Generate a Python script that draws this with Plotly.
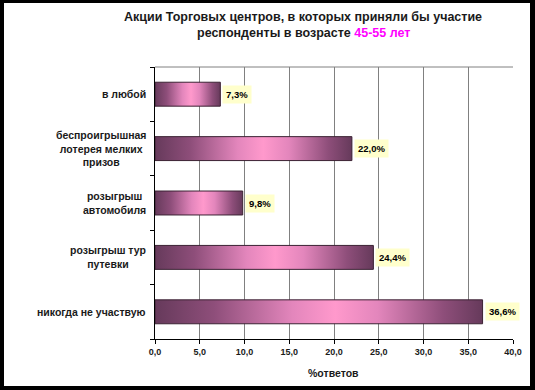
import plotly.graph_objects as go

categories = ["в любой", "беспроигрышная<br>лотерея мелких<br>призов", "розыгрыш<br>автомобиля",
              "розыгрыш тур<br>путевки", "никогда не участвую"]
values = [7.3, 22.0, 9.8, 24.4, 36.6]
x_ticks = [0, 5, 10, 15, 20, 25, 30, 35, 40]
x_ticklabels = [f"{v:.1f}".replace(".", ",") for v in x_ticks]

W, H = 535, 390
ML, MR, MT, MB = 155, 22, 67, 51
PW, PH = W - ML - MR, H - MT - MB

def px(xpix):
    return (xpix - ML) / PW

def py(ypix):
    return (H - MB - ypix) / PH

FONT = "Liberation Sans, Arial, sans-serif"
bar_half = 0.22
grad = [[0.0, "#663a5b"], [0.18, "#8e4e7a"], [0.42, "#e386bc"], [0.55, "#ff99cc"],
        [0.68, "#e386bc"], [0.88, "#8e4e7a"], [1.0, "#663a5b"]]

fig = go.Figure()
for i, v in enumerate(values):
    fig.add_trace(go.Scatter(
        x=[0, v, v, 0, 0],
        y=[i - bar_half, i - bar_half, i + bar_half, i + bar_half, i - bar_half],
        mode="lines", fill="toself",
        fillgradient=dict(type="horizontal", colorscale=grad),
        line=dict(color="#3b2233", width=1),
        hoverinfo="skip", showlegend=False,
    ))

annotations = []
for i, v in enumerate(values):
    annotations.append(dict(
        x=v, y=i, xref="x", yref="y", xanchor="left", yanchor="middle", xshift=2,
        text=f"{v:.1f}".replace(".", ",") + "%", showarrow=False,
        font=dict(family=FONT, size=9.5, color="#000000", weight="bold"),
        bgcolor="#FFFFCC", borderpad=3,
    ))
for i, c in enumerate(categories):
    annotations.append(dict(
        x=0, y=i, xref="paper", yref="y", xanchor="right", yanchor="middle", xshift=-7,
        text=c, showarrow=False, align="center",
        font=dict(family=FONT, size=10.5, color="#1a1a1a", weight="bold"),
    ))
annotations.append(dict(
    x=px(303), y=py(17), xref="paper", yref="paper", xanchor="center", yanchor="middle",
    text="Акции Торговых центров, в которых приняли бы участие", showarrow=False,
    font=dict(family=FONT, size=12.5, color="#1a1a1a", weight="bold"),
))
annotations.append(dict(
    x=px(303), y=py(33), xref="paper", yref="paper", xanchor="center", yanchor="middle",
    text="респонденты в возрасте <span style='color:#FF00FF'>45-55 лет</span>", showarrow=False,
    font=dict(family=FONT, size=12.5, color="#1a1a1a", weight="bold"),
))
annotations.append(dict(
    x=px(333), y=py(373), xref="paper", yref="paper", xanchor="center", yanchor="middle",
    text="%ответов", showarrow=False,
    font=dict(family=FONT, size=10.5, color="#1a1a1a", weight="bold"),
))

shapes = [
    dict(type="rect", xref="paper", yref="paper", x0=px(4), x1=px(530), y0=py(386), y1=py(3),
         fillcolor="white", line=dict(width=0), layer="below"),
    dict(type="line", xref="paper", yref="paper", x0=0, x1=1, y0=1, y1=1,
         line=dict(color="#808080", width=1)),
]

fig.update_layout(
    width=W, height=H,
    margin=dict(l=ML, r=MR, t=MT, b=MB),
    paper_bgcolor="black", plot_bgcolor="white",
    annotations=annotations, shapes=shapes,
    xaxis=dict(range=[0, 40], tickvals=x_ticks, ticktext=x_ticklabels,
               showgrid=True, gridcolor="#808080", gridwidth=1,
               showline=True, linecolor="#000000", linewidth=1,
               ticks="outside", ticklen=4, tickcolor="#000000",
               tickfont=dict(family=FONT, size=9, color="#1a1a1a", weight="bold"),
               zeroline=False, fixedrange=True),
    yaxis=dict(range=[4.5, -0.5], tickvals=[-0.5, 0.5, 1.5, 2.5, 3.5, 4.5],
               showticklabels=False, showgrid=False,
               showline=True, linecolor="#000000", linewidth=1,
               ticks="outside", ticklen=4, tickcolor="#000000",
               zeroline=False, fixedrange=True),
)

fig.write_html("out.html", config={"displayModeBar": False},
               post_script="document.body.style.margin='0';document.body.style.padding='0';")
